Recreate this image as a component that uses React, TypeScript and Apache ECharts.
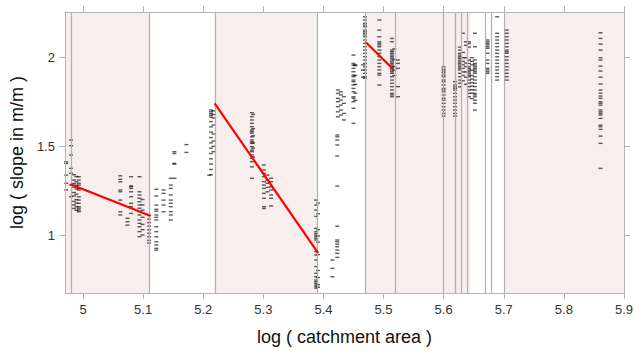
import React, { useEffect, useRef } from "react";
import * as echarts from "echarts";

type Column = [number, number[]];

// Survey columns: each entry is a log(catchment area) value and the log(slope) readings taken there
const reach1: Column[] = [
  [4.972, [1.413, 1.404, 1.338, 1.292, 1.254]],
  [4.98, [1.536, 1.504, 1.451, 1.376, 1.348, 1.282, 1.216]],
  [4.985, [1.34, 1.31, 1.29, 1.27, 1.24, 1.22, 1.19, 1.17, 1.15]],
  [4.989, [1.33, 1.3, 1.28, 1.26, 1.23, 1.2, 1.18, 1.16, 1.14]],
  [4.993, [1.329, 1.31, 1.292, 1.282, 1.263, 1.254, 1.216, 1.197, 1.179, 1.16, 1.151, 1.141, 1.132]],
  [5.062, [1.334, 1.314, 1.3, 1.254, 1.244, 1.197, 1.131, 1.113]],
  [5.074, [1.094, 1.075, 1.056]],
  [5.08, [1.329, 1.277, 1.273, 1.263, 1.244, 1.216, 1.179, 1.16, 1.122]],
  [5.094, [1.329, 1.244, 1.226, 1.207, 1.188, 1.169, 1.151, 1.132, 1.113, 1.085, 1.066, 1.047, 1.019, 0.991]],
  [5.099, [1.2, 1.17, 1.14, 1.1, 1.06, 1.03, 1.0]],
  [5.11, [1.11, 1.09, 1.07, 1.05, 1.03, 1.01, 0.99, 0.97, 0.955]],
];

const gap1: Column[] = [
  [5.122, [1.258, 1.22, 1.169, 1.145, 1.135, 1.113, 1.1, 1.085, 1.047, 1.019, 0.99, 0.962, 0.944, 0.925, 0.915]],
  [5.134, [1.254, 1.235, 1.197, 1.169, 1.131]],
  [5.146, [1.32, 1.282, 1.263, 1.226, 1.197, 1.179, 1.16, 1.132, 1.113, 1.085]],
  [5.152, [1.47, 1.46, 1.404, 1.4, 1.32]],
  [5.172, [1.51, 1.466]],
  [5.21, [1.338]],
  [5.213, [1.705, 1.695, 1.685, 1.675, 1.665, 1.64, 1.61, 1.58, 1.55, 1.52, 1.49, 1.46, 1.43, 1.4, 1.37, 1.34]],
  [5.217, [1.7, 1.68, 1.66, 1.62, 1.57, 1.53, 1.5, 1.47]],
];

const reach2: Column[] = [
  [5.281, [1.69, 1.667, 1.649, 1.63, 1.611, 1.592, 1.583, 1.574, 1.554, 1.536, 1.526, 1.517, 1.498, 1.479, 1.47, 1.451, 1.433, 1.414, 1.385, 1.32]],
  [5.283, [1.68, 1.6, 1.56, 1.52, 1.49, 1.44]],
  [5.301, [1.395, 1.367, 1.348, 1.329, 1.301, 1.282, 1.263, 1.235, 1.207, 1.16, 1.15]],
  [5.307, [1.338, 1.31, 1.292, 1.269, 1.244]],
  [5.313, [1.32, 1.301, 1.272, 1.254, 1.226, 1.207, 1.164]],
  [5.388, [1.197, 1.169, 1.141, 1.105, 1.038, 1.019, 1.009, 1.0, 0.991, 0.981, 0.972, 0.906, 0.887, 0.859, 0.822, 0.784, 0.765, 0.746, 0.737, 0.728, 0.718, 0.709, 0.7]],
  [5.391, [1.18, 1.12, 1.03, 0.995, 0.96, 0.89, 0.8, 0.76, 0.72, 0.705]],
];

const gap2: Column[] = [
  [5.415, [0.859, 0.812, 0.765]],
  [5.423, [1.564, 1.554, 1.536, 1.508, 1.446, 1.276, 1.05, 0.972, 0.962, 0.949, 0.934, 0.915, 0.897, 0.874]],
  [5.424, [1.818, 1.799, 1.771, 1.752, 1.724, 1.695, 1.667]],
  [5.429, [1.808, 1.79, 1.761, 1.733, 1.705, 1.677]],
  [5.434, [1.78, 1.743, 1.686, 1.649]],
  [5.45, [2.015, 1.968, 1.959, 1.94, 1.921, 1.902, 1.893, 1.874, 1.865, 1.846, 1.827, 1.808, 1.78, 1.771, 1.752, 1.715, 1.63]],
  [5.453, [1.96, 1.955, 1.9, 1.85, 1.8, 1.76]],
];

const reach3: Column[] = [
  [5.466, [1.96, 1.93, 1.89]],
  [5.469, [2.231, 2.213, 2.194, 2.184, 2.175, 2.156, 2.147, 2.138, 2.128, 2.118, 2.1, 2.081, 2.062, 2.043, 2.025, 2.006, 1.987, 1.968, 1.949, 1.931, 1.912, 1.893, 1.884]],
  [5.493, [2.213, 2.156, 2.118, 2.09, 2.081, 2.072, 2.062, 2.043, 2.025, 2.006, 1.987, 1.968, 1.949, 1.931, 1.912, 1.902, 1.846]],
  [5.514, [2.109, 2.09, 2.043, 2.034, 2.025, 2.015, 2.006, 1.997, 1.987, 1.977, 1.968, 1.959, 1.949, 1.94, 1.931, 1.921, 1.912, 1.893, 1.874, 1.856, 1.837, 1.818, 1.799, 1.79, 1.78]],
  [5.518, [2.05, 1.99, 1.95, 1.93, 1.9]],
  [5.524, [1.987, 1.968, 1.94, 1.837, 1.78]],
];

const upperReaches: Column[] = [
  [5.6, [1.949, 1.935, 1.925, 1.915, 1.902, 1.893, 1.874, 1.865, 1.846, 1.827, 1.818, 1.808, 1.79, 1.771, 1.761, 1.743, 1.724, 1.705, 1.686, 1.671]],
  [5.619, [1.865, 1.846, 1.836, 1.827, 1.818, 1.799, 1.78, 1.761, 1.743, 1.724, 1.705, 1.686, 1.671]],
  [5.627, [2.06, 2.043, 2.025, 2.015, 2.006, 1.997, 1.987, 1.977, 1.968, 1.959, 1.949, 1.94, 1.931, 1.912, 1.893, 1.874, 1.856, 1.836]],
  [5.632, [2.138, 2.03, 2.0, 1.98, 1.96, 1.94, 1.92, 1.9, 1.87]],
  [5.637, [2.09, 2.07, 2.0, 1.97, 1.95, 1.92, 1.89, 1.85]],
  [5.642, [2.09, 2.08, 2.06, 1.987, 1.968, 1.949, 1.94, 1.931, 1.921, 1.912, 1.902, 1.893, 1.874, 1.856, 1.837, 1.818, 1.799, 1.78]],
  [5.647, [2.0, 1.98, 1.96, 1.93, 1.9, 1.88, 1.86, 1.84, 1.82, 1.8, 1.77]],
  [5.652, [2.138, 2.062, 1.987, 1.968, 1.959, 1.949, 1.94, 1.931, 1.921, 1.912, 1.893, 1.874, 1.856, 1.837, 1.818, 1.799, 1.79, 1.78, 1.761, 1.743, 1.705]],
  [5.673, [2.1, 2.09, 2.081, 2.072, 2.062, 2.053, 2.025, 1.987, 1.968, 1.94, 1.931, 1.921, 1.912]],
  [5.689, [2.231, 2.138, 2.118, 2.1, 2.081, 2.062, 2.043, 2.025, 2.006, 1.987, 1.968, 1.949, 1.931, 1.912, 1.893, 1.874]],
  [5.705, [2.156, 2.138, 2.118, 2.1, 2.081, 2.062, 2.043, 2.034, 2.025, 2.006, 1.987, 1.968, 1.949, 1.931, 1.912, 1.893, 1.874]],
  [5.861, [2.141, 2.109, 2.077, 2.043, 2.0, 1.987, 1.953, 1.925, 1.89, 1.852, 1.818, 1.8, 1.784, 1.771, 1.752, 1.743, 1.733, 1.705, 1.695, 1.686, 1.677, 1.658, 1.62, 1.611, 1.596, 1.558, 1.517, 1.376]],
];

// Fitted slope–area trends for three reaches
const trend1: [number, number][] = [[4.979, 1.286], [5.112, 1.109]];
const trend2: [number, number][] = [[5.219, 1.743], [5.391, 0.9]];
const trend3: [number, number][] = [[5.4705, 2.087], [5.5157, 1.936]];

// Reach boundaries and shaded reaches
const breaks: number[] = [4.979, 5.112, 5.219, 5.391, 5.4705, 5.5157, 5.6, 5.618, 5.623, 5.634, 5.645, 5.672, 5.685, 5.702];
const shadedReaches: [number, number][] = [[4.97, 5.112], [5.219, 5.391], [5.4705, 5.645], [5.702, 5.9]];

const xTicks: number[] = [5, 5.1, 5.2, 5.3, 5.4, 5.5, 5.6, 5.7, 5.8, 5.9];
const yTicks: number[] = [1, 1.5, 2];

const X_MIN = 4.97;
const X_MAX = 5.9;
const Y_MIN = 0.673;
const Y_MAX = 2.258;

const FONT = "Liberation Sans, Arial, Helvetica, sans-serif";
const AXIS_GRAY = "#b4b4b4";

function flatten(cols: Column[]): [number, number][] {
  const out: [number, number][] = [];
  cols.forEach(([x, ys]) => ys.forEach((y) => out.push([x, y])));
  return out;
}

export default function App() {
  const ref = useRef<HTMLDivElement>(null);

  useEffect(() => {
    document.body.style.margin = "0";
    if (!ref.current) return;
    const chart = echarts.init(ref.current, undefined, { renderer: "svg" });

    const points = flatten([...reach1, ...gap1, ...reach2, ...gap2, ...reach3, ...upperReaches]);

    const baseX = {
      type: "value" as const,
      min: X_MIN,
      max: X_MAX,
      z: 10,
      splitLine: { show: false },
      axisLine: { show: true, lineStyle: { color: AXIS_GRAY, width: 1 } },
      axisTick: { show: true, length: 6, customValues: xTicks, lineStyle: { color: AXIS_GRAY } },
    };
    const baseY = {
      type: "value" as const,
      min: Y_MIN,
      max: Y_MAX,
      z: 10,
      splitLine: { show: false },
      axisLine: { show: true, lineStyle: { color: AXIS_GRAY, width: 1 } },
      axisTick: { show: true, length: 6, customValues: yTicks, lineStyle: { color: AXIS_GRAY } },
    };

    const trendSeries = (data: [number, number][]) => ({
      type: "line",
      data,
      symbol: "none",
      z: 5,
      silent: true,
      lineStyle: { color: "#ff0000", width: 2.2 },
    });

    chart.setOption({
      animation: false,
      backgroundColor: "#ffffff",
      grid: { left: 64, right: 9, top: 12, bottom: 58 },
      xAxis: [
        {
          ...baseX,
          position: "bottom",
          name: "log ( catchment area )",
          nameLocation: "middle",
          nameGap: 35,
          nameTextStyle: { fontFamily: FONT, fontSize: 18, color: "#111" },
          axisLabel: {
            customValues: xTicks,
            fontFamily: FONT,
            fontSize: 13,
            color: "#333",
            margin: 10,
            formatter: (v: number) => String(v),
          },
        },
        {
          ...baseX,
          position: "top",
          axisLabel: { show: false },
        },
      ],
      yAxis: [
        {
          ...baseY,
          position: "left",
          name: "log ( slope in m/m )",
          nameLocation: "middle",
          nameGap: 32,
          nameTextStyle: { fontFamily: FONT, fontSize: 18, color: "#111" },
          axisLabel: {
            customValues: yTicks,
            fontFamily: FONT,
            fontSize: 13,
            color: "#333",
            margin: 10,
            formatter: (v: number) => String(v),
          },
        },
        {
          ...baseY,
          position: "right",
          axisLabel: { show: false },
        },
      ],
      series: [
        {
          type: "scatter",
          data: [],
          z: 1,
          silent: true,
          markArea: {
            silent: true,
            itemStyle: { color: "#f8eeee" },
            data: shadedReaches.map(([a, b]) => [{ xAxis: a }, { xAxis: b }]),
          },
          markLine: {
            silent: true,
            symbol: ["none", "none"],
            label: { show: false },
            lineStyle: { color: "#b0b0b0", width: 1.2, type: "solid" },
            data: breaks.map((x) => ({ xAxis: x })),
          },
        },
        {
          type: "scatter",
          data: points,
          z: 3,
          silent: true,
          symbol: "rect",
          symbolSize: [4, 1.4],
          itemStyle: { color: "rgba(0,0,0,0.8)" },
        },
        trendSeries(trend1),
        trendSeries(trend2),
        trendSeries(trend3),
      ],
    });

    return () => chart.dispose();
  }, []);

  return <div ref={ref} style={{ width: 636, height: 351 }} />;
}
